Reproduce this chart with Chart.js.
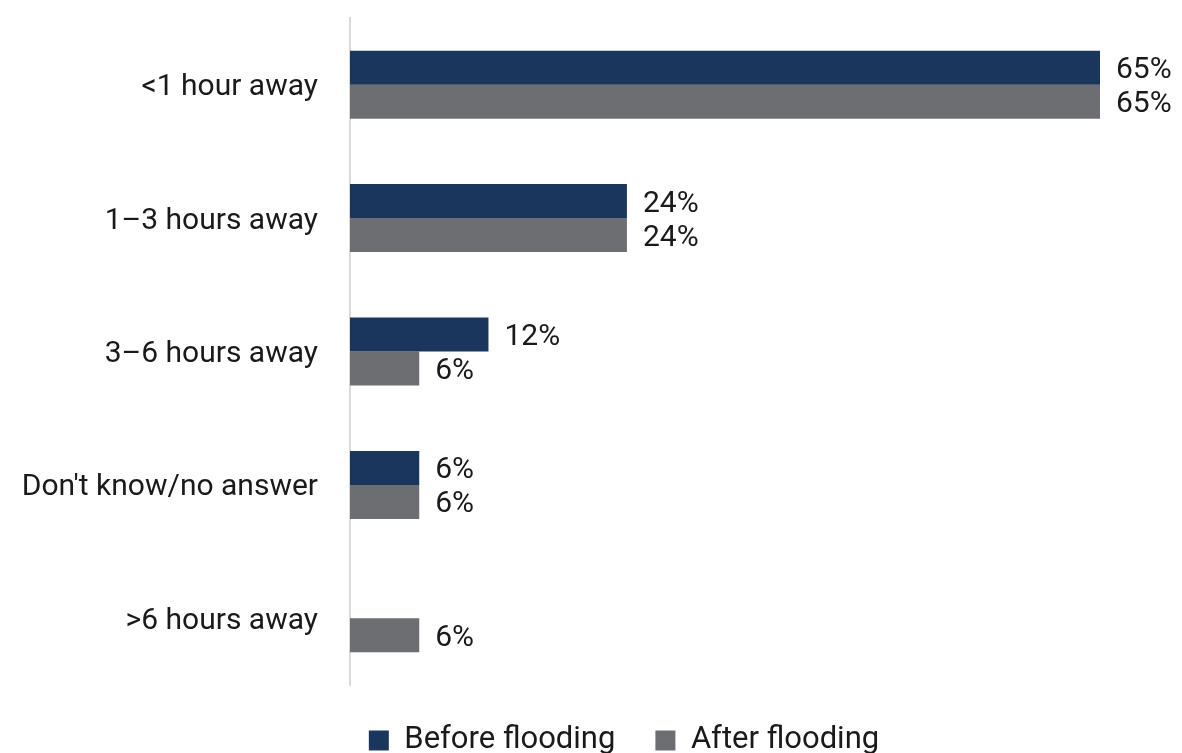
<!DOCTYPE html>
<html>
<head>
<meta charset="utf-8">
<script src="https://cdn.jsdelivr.net/npm/chart.js@4/dist/chart.umd.min.js"></script>
<style>
  html, body { margin: 0; padding: 0; background: #fff; overflow: hidden; }
  #wrap { width: 1182px; height: 766px; }
</style>
</head>
<body>
<div id="wrap"><canvas id="chart"></canvas></div>
<script>
const categories = ["<1 hour away", "1\u20133 hours away", "3\u20136 hours away", "Don't know/no answer", ">6 hours away"];
const beforeValues = [65, 24, 12, 6, null];
const afterValues = [65, 24, 6, 6, 6];
const seriesNames = ["Before flooding", "After flooding"];

const navy = "#1b365d";
const grey = "#6d6e71";

// labels at the end of each bar
const valueLabels = {
  id: "valueLabels",
  afterDatasetsDraw(chart) {
    const ctx = chart.ctx;
    ctx.save();
    ctx.font = "30px Roboto";
    ctx.fillStyle = "#1a1a1a";
    ctx.textAlign = "left";
    ctx.textBaseline = "middle";
    chart.data.datasets.forEach((ds, i) => {
      const meta = chart.getDatasetMeta(i);
      meta.data.forEach((bar, j) => {
        const v = ds.data[j];
        if (v === null || v === undefined) return;
        ctx.fillText(v + "%", bar.x + 16, bar.y + 3);
      });
    });
    ctx.restore();
  }
};

// the legend sits a bit right of the canvas centre
const legendShift = {
  id: "legendShift",
  afterLayout(chart) {
    chart.legend.left += 74;
    chart.legend.right += 74;
  }
};

new Chart(document.getElementById("chart").getContext("2d"), {
  type: "bar",
  data: {
    labels: categories,
    datasets: [
      { label: seriesNames[0], data: beforeValues, backgroundColor: navy, categoryPercentage: 0.51, barPercentage: 1 },
      { label: seriesNames[1], data: afterValues, backgroundColor: grey, categoryPercentage: 0.51, barPercentage: 1 }
    ]
  },
  options: {
    indexAxis: "y",
    responsive: true,
    maintainAspectRatio: false,
    animation: false,
    layout: { padding: { top: 18, right: 82, bottom: 0, left: 0 } },
    scales: {
      x: {
        display: false,
        min: 0,
        max: 65
      },
      y: {
        grid: { display: false, drawTicks: false },
        border: { display: true, color: "#d9d9d9", width: 2 },
        ticks: { color: "#1a1a1a", font: { family: "Roboto", size: 30 }, padding: 32, labelOffset: 3 },
        afterFit(scale) {
          scale.width = 350;
          scale.paddingTop = 0;
          scale.paddingBottom = 0;
        }
      }
    },
    plugins: {
      tooltip: { enabled: false },
      legend: {
        position: "bottom",
        labels: {
          color: "#1a1a1a",
          font: { family: "Roboto", size: 31 },
          boxWidth: 20,
          boxHeight: 20,
          padding: 40
        }
      }
    }
  },
  plugins: [valueLabels, legendShift]
});
</script>
</body>
</html>
